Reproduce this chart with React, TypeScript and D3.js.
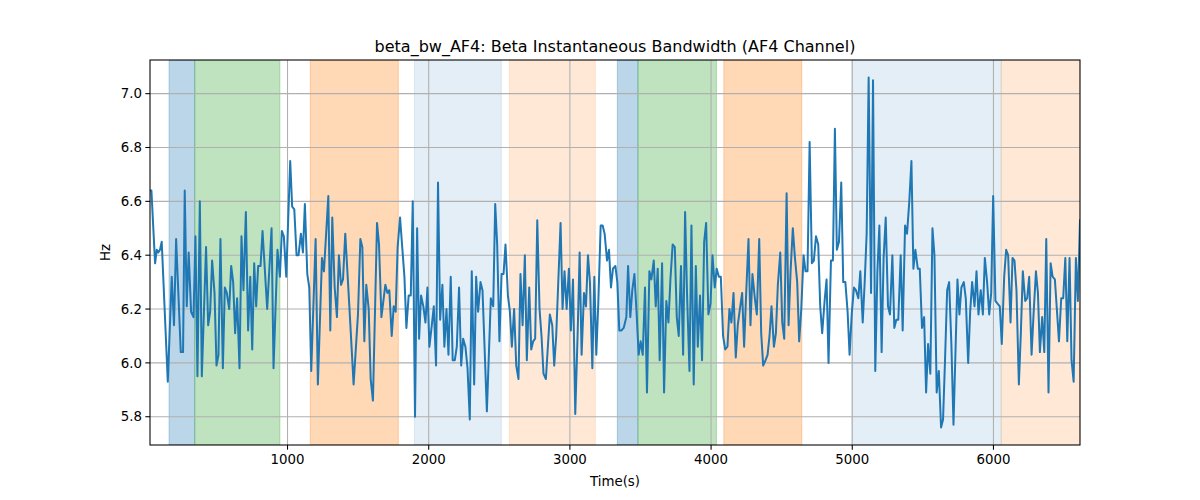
import React from "react";
import * as d3 from "d3";

const times: number[] = [
  26, 36, 62, 74, 85, 97, 109, 152, 180, 196, 211, 244, 260, 272, 286, 300, 317, 334, 348, 362, 379, 393, 423, 438, 452, 466, 483, 497, 511, 525, 542, 556, 570, 587, 601, 615, 629, 643, 660, 674, 688, 705, 721, 736, 750, 764, 778, 792, 809, 823,
  856, 887, 901, 929, 946, 960, 974, 991, 1019, 1033, 1048, 1064, 1078, 1095, 1109, 1123, 1140, 1154, 1168, 1199, 1215, 1244, 1258, 1289, 1303, 1317, 1334, 1350, 1364, 1379, 1393, 1409, 1438, 1468, 1499, 1516, 1530, 1544, 1558, 1575, 1589, 1605, 1634,
  1648, 1665, 1679, 1693, 1707, 1721, 1738, 1752, 1766, 1780, 1797, 1828, 1842, 1858, 1873, 1887, 1903, 1918, 1932, 1946, 1962, 1977, 1991, 2005, 2022, 2036, 2052, 2066, 2081, 2097, 2111, 2126, 2140, 2156, 2170, 2185, 2199, 2215, 2230, 2244, 2260, 2275, 2291, 2305, 2322, 2336, 2350, 2367, 2381, 2412, 2440, 2457, 2471,
  2485, 2501, 2516, 2530, 2544, 2561, 2575, 2589, 2605, 2620, 2636, 2650, 2665, 2681, 2695, 2712, 2726, 2740, 2754, 2769, 2785, 2799, 2813, 2830, 2844, 2858, 2875, 2889, 2903, 2917, 2934, 2948, 2962, 2977, 2993, 3007, 3022, 3038, 3055, 3069, 3083, 3100, 3114, 3128, 3142, 3159, 3173, 3187, 3201, 3218, 3232, 3246, 3263, 3277,
  3291, 3305, 3322, 3336, 3350, 3364, 3381, 3400, 3412, 3428, 3442, 3457, 3473, 3487, 3501, 3516, 3532, 3546, 3563, 3577, 3594, 3608, 3622, 3636, 3653, 3667, 3683, 3698, 3712, 3728, 3743, 3757, 3771, 3787, 3802, 3816, 3830, 3847, 3861, 3877, 3892, 3906, 3922, 3936, 3951, 3965, 3981, 3996, 4010, 4026, 4040, 4055, 4069, 4085,
  4100, 4116, 4130, 4144, 4159, 4175, 4189, 4204, 4220, 4234, 4248, 4265, 4279, 4293, 4310, 4324, 4341, 4355, 4369, 4386, 4400, 4414, 4428, 4445, 4459, 4473, 4490, 4504, 4518, 4535, 4549, 4563, 4579, 4594, 4610, 4624, 4639, 4655, 4669, 4683, 4698, 4714, 4728, 4743, 4759, 4773, 4787, 4804, 4818, 4832, 4849, 4863, 4877, 4891, 4906,
  4922, 4936, 4951, 4967, 4981, 4996, 5012, 5026, 5043, 5057, 5074, 5088, 5102, 5116, 5133, 5147, 5163, 5178, 5192, 5208, 5222, 5237, 5253, 5267, 5284, 5298, 5312, 5326, 5343, 5357, 5374, 5388, 5404, 5419, 5433, 5447, 5464, 5478, 5494, 5509, 5523, 5537, 5553, 5568, 5582, 5598, 5613, 5629, 5643, 5657, 5672, 5686, 5702, 5717,
  5745, 5759, 5773, 5790, 5804, 5821, 5835, 5849, 5866, 5880, 5894, 5910, 5925, 5939, 5955, 5970, 5984, 5998, 6014, 6029, 6045, 6059, 6076, 6090, 6104, 6121, 6135, 6149, 6163, 6180, 6194, 6208, 6225, 6239, 6253, 6270, 6284, 6301, 6315, 6329, 6345, 6360, 6374, 6390, 6405, 6419, 6435, 6449, 6464, 6480, 6494, 6509, 6523, 6539, 6553, 6568, 6584, 6598, 6613,
];

const values: number[] = [
  6.64, 6.64, 6.37, 6.42, 6.41, 6.42, 6.45, 5.93, 6.32, 6.14, 6.46, 6.04, 6.04, 6.64, 6.21, 6.41, 6.19, 6.17, 6.47, 5.95, 6.6, 5.95, 6.43, 6.14, 6.19, 6.38, 6.26, 5.99, 6.03, 6.46, 5.98, 6.28, 6.26, 6.2, 6.36, 6.3, 6.11, 6.24, 5.98, 6.47, 6.27, 6.56, 6.12, 6.32, 6.05, 6.37, 6.21, 6.36, 6.36, 6.49,
  6.2, 6.5, 5.98, 6.42, 6.32, 6.49, 6.47, 6.32, 6.75, 6.58, 6.57, 6.4, 6.4, 6.48, 6.41, 6.59, 6.33, 6.28, 5.97, 6.46, 5.92, 6.39, 6.34, 6.62, 6.12, 6.54, 6.28, 6.17, 6.4, 6.29, 6.31, 6.48, 6.21, 5.92, 6.18, 6.46, 6.43, 6.08, 6.29, 6.2, 5.94, 5.86, 6.52,
  6.44, 6.17, 6.23, 6.29, 6.26, 6.27, 6.1, 6.21, 6.19, 6.43, 6.54, 6.32, 6.13, 6.25, 6.25, 6.6, 5.8, 6.5, 6.09, 6.25, 6.21, 6.15, 6.28, 6.06, 6.14, 6.21, 5.99, 6.67, 6.16, 6.29, 6.06, 6.2, 6.03, 6.32, 6.01, 6.01, 6.06, 6.28, 5.99, 6.09, 6.06, 5.98, 5.79, 6.34, 5.92, 6.32, 6.19, 6.3, 6.27, 5.82, 6.24, 6.21, 6.59,
  6.44, 6.08, 6.33, 6.33, 6.44, 6.25, 6.19, 6.06, 6.2, 5.99, 5.94, 6.33, 6.14, 6.4, 6.01, 6.28, 6.05, 6.08, 6.09, 6.53, 6.2, 6.1, 5.96, 5.94, 6.06, 6.18, 6.14, 5.99, 6.1, 6.29, 6.52, 6.2, 6.34, 6.2, 6.35, 6.12, 6.31, 5.81, 6.11, 6.41, 6.03, 6.26, 6.21, 6.4, 6.3, 5.98, 6.32, 6.03, 6.22, 6.51, 6.51, 6.48, 6.38, 6.42,
  6.28, 6.35, 6.36, 6.3, 6.12, 6.12, 6.13, 6.17, 6.36, 6.17, 6.27, 6.33, 6.18, 6.03, 6.08, 6.03, 6.28, 5.89, 6.34, 6.31, 6.38, 6.21, 6.35, 6.01, 6.37, 5.89, 6.23, 6.15, 6.31, 6.44, 6.43, 6.17, 6.1, 6.36, 6.03, 6.56, 6.25, 5.97, 6.51, 5.92, 6.36, 6.06, 6.25, 6.01, 6.45, 6.52, 6.18, 6.22, 6.4, 6.28, 6.35, 6.32, 6.32, 6.1,
  6.05, 6.06, 6.2, 6.15, 6.26, 6.02, 6.14, 6.2, 6.26, 6.06, 6.25, 6.46, 6.14, 6.33, 6.24, 6.18, 6.46, 6.11, 5.99, 6.01, 6.03, 6.1, 6.21, 6.06, 6.11, 6.29, 6.41, 6.15, 6.09, 6.63, 6.14, 6.34, 6.5, 6.39, 6.3, 6.08, 6.2, 6.4, 6.34, 6.34, 6.82, 6.37, 6.38, 6.47, 6.44, 6.21, 6.11, 6.23, 6.31, 6.0, 6.38, 6.38, 6.87, 6.42, 6.45,
  6.67, 6.3, 6.3, 6.19, 6.03, 6.18, 6.28, 6.27, 6.24, 6.34, 6.15, 6.3, 6.48, 7.06, 6.26, 7.05, 5.97, 6.34, 6.51, 6.04, 6.39, 6.54, 6.21, 6.18, 6.4, 6.13, 6.16, 6.16, 6.4, 6.12, 6.51, 6.48, 6.6, 6.75, 6.35, 6.42, 6.35, 6.35, 6.13, 6.17, 5.89, 6.07, 5.96, 6.5, 6.4, 5.89, 5.97, 5.76, 5.79, 6.01, 6.27, 6.3, 6.07, 5.77,
  6.31, 6.18, 6.28, 6.3, 6.24, 6.0, 6.19, 6.3, 6.21, 6.34, 6.18, 6.27, 6.18, 6.39, 6.3, 6.18, 6.26, 6.62, 6.23, 6.22, 6.21, 6.07, 6.32, 6.42, 6.4, 6.15, 6.39, 6.38, 6.27, 5.92, 6.11, 6.34, 6.23, 6.24, 6.32, 6.03, 6.18, 6.34, 6.26, 6.04, 6.17, 6.04, 6.46, 5.89, 6.37, 6.32, 6.31, 6.2, 6.08, 6.24, 6.24, 6.39, 6.08, 6.39, 6.01, 5.93, 6.39, 6.23, 6.53,
];

// shaded phases: start, end, kind
const spanStarts: number[] = [161, 343, 1161, 1899, 2572, 3336, 3482, 4090, 4996, 6055];
const spanEnds: number[] = [343, 946, 1785, 2514, 3180, 3482, 4038, 4643, 6055, 6700];
const spanKinds: string[] = ["blue", "green", "orange", "lightblue", "lightorange", "blue", "green", "orange", "lightblue", "lightorange"];

const xTicks: number[] = [1000, 2000, 3000, 4000, 5000, 6000];
const yTicks: number[] = [5.8, 6.0, 6.2, 6.4, 6.6, 6.8, 7.0];

const title = "beta_bw_AF4: Beta Instantaneous Bandwidth (AF4 Channel)";
const xLabel = "Time(s)";
const yLabel = "Hz";

const spanStyle: Record<string, { color: string; opacity: number }> = {
  blue: { color: "#1f77b4", opacity: 0.3 },
  green: { color: "#2ca02c", opacity: 0.3 },
  orange: { color: "#ff7f0e", opacity: 0.3 },
  lightblue: { color: "#1f77b4", opacity: 0.12 },
  lightorange: { color: "#ff7f0e", opacity: 0.17 },
};

export default function App() {
  const W = 1200, H = 500;
  const left = 150, right = 1080, top = 60, bottom = 445;
  const font = "'DejaVu Sans', sans-serif";

  const [xmin, xmax] = d3.extent(times) as [number, number];
  const [vmin, vmax] = d3.extent(values) as [number, number];
  const pad = (vmax - vmin) * 0.05;

  const x = d3.scaleLinear().domain([xmin, xmax]).range([left, right]);
  const y = d3.scaleLinear().domain([vmin - pad, vmax + pad]).range([bottom, top]);

  const pts = times.map((t, i) => [t, values[i]] as [number, number]);
  const line = d3.line<[number, number]>().x((d) => x(d[0])).y((d) => y(d[1]));

  const clamp = (v: number) => Math.max(left, Math.min(right, v));

  return (
    <div style={{ position: "absolute", left: 0, top: 0 }}>
      <svg width={W} height={H} style={{ display: "block" }}>
        <rect x={0} y={0} width={W} height={H} fill="#fff" />
        <defs>
          <clipPath id="plotclip">
            <rect x={left} y={top} width={right - left} height={bottom - top} />
          </clipPath>
        </defs>
        <g clipPath="url(#plotclip)">
          {spanStarts.map((s, i) => {
            const st = spanStyle[spanKinds[i]];
            const x0 = clamp(x(s));
            const x1 = clamp(x(spanEnds[i]));
            return (
              <rect
                key={i}
                x={x0}
                y={top}
                width={x1 - x0}
                height={bottom - top}
                fill={st.color}
                fillOpacity={st.opacity}
                stroke={st.color}
                strokeOpacity={st.opacity}
                strokeWidth={1}
              />
            );
          })}
          {xTicks.map((t) => (
            <line key={"gx" + t} x1={x(t)} x2={x(t)} y1={top} y2={bottom} stroke="#b0b0b0" strokeWidth={1.07} />
          ))}
          {yTicks.map((t) => (
            <line key={"gy" + t} x1={left} x2={right} y1={y(t)} y2={y(t)} stroke="#b0b0b0" strokeWidth={1.07} />
          ))}
          <path d={line(pts) || ""} fill="none" stroke="#1f77b4" strokeWidth={2} strokeLinejoin="round" strokeLinecap="square" />
        </g>
        <rect x={left} y={top} width={right - left} height={bottom - top} fill="none" stroke="#000" strokeWidth={1.07} />
        {xTicks.map((t) => (
          <g key={"tx" + t}>
            <line x1={x(t)} x2={x(t)} y1={bottom} y2={bottom + 4.67} stroke="#000" strokeWidth={1.07} />
            <text x={x(t)} y={bottom + 19} textAnchor="middle" fontFamily={font} fontSize={13.33} fill="#000">
              {t}
            </text>
          </g>
        ))}
        {yTicks.map((t) => (
          <g key={"ty" + t}>
            <line x1={left - 4.67} x2={left} y1={y(t)} y2={y(t)} stroke="#000" strokeWidth={1.07} />
            <text x={left - 8} y={y(t)} dy="0.35em" textAnchor="end" fontFamily={font} fontSize={13.33} fill="#000">
              {t.toFixed(1)}
            </text>
          </g>
        ))}
        <text x={(left + right) / 2} y={486} textAnchor="middle" fontFamily={font} fontSize={13.33} fill="#000">
          {xLabel}
        </text>
        <text transform={`translate(110,${(top + bottom) / 2}) rotate(-90)`} textAnchor="middle" fontFamily={font} fontSize={13.33} fill="#000">
          {yLabel}
        </text>
        <text x={(left + right) / 2} y={52} textAnchor="middle" fontFamily={font} fontSize={16} fill="#000">
          {title}
        </text>
      </svg>
    </div>
  );
}
